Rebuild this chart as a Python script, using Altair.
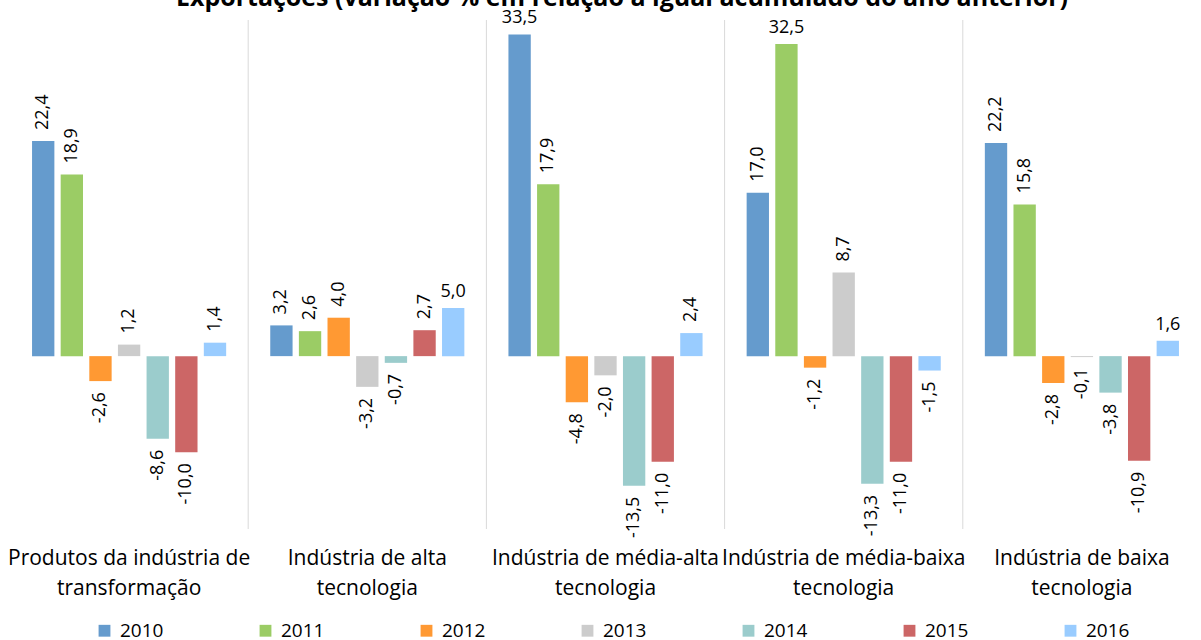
import altair as alt
import pandas as pd

title_text = "Exportações (variação % em relação a igual acumulado do ano anterior)"

categories = [
    "Produtos da indústria de\ntransformação",
    "Indústria de alta\ntecnologia",
    "Indústria de média-alta\ntecnologia",
    "Indústria de média-baixa\ntecnologia",
    "Indústria de baixa\ntecnologia",
]
years = ["2010", "2011", "2012", "2013", "2014", "2015", "2016"]

v_transformacao = [22.4, 18.9, -2.6, 1.2, -8.6, -10.0, 1.4]
v_alta = [3.2, 2.6, 4.0, -3.2, -0.7, 2.7, 5.0]
v_media_alta = [33.5, 17.9, -4.8, -2.0, -13.5, -11.0, 2.4]
v_media_baixa = [17.0, 32.5, -1.2, 8.7, -13.3, -11.0, -1.5]
v_baixa = [22.2, 15.8, -2.8, -0.1, -3.8, -10.9, 1.6]

series = [v_transformacao, v_alta, v_media_alta, v_media_baixa, v_baixa]

# labels drawn horizontally in the original (others are rotated)
horizontal_labels = [(1, "2016"), (2, "2010"), (3, "2011"), (4, "2016")]

colors = ["#659BCD", "#9BCC65", "#FF9933", "#CCCCCC", "#9BCCCC", "#CC6666", "#99CCFF"]

rows = []
for ci, (cat, vals) in enumerate(zip(categories, series)):
    for y, v in zip(years, vals):
        rows.append({
            "cat": cat,
            "year": y,
            "v": v,
            "label": f"{v:.1f}".replace(".", ","),
            "horiz": (ci, y) in horizontal_labels,
        })
df = pd.DataFrame(rows)

FONT = "Open Sans"
W, H = 1191, 509

x_enc = alt.X(
    "cat:N",
    sort=categories,
    scale=alt.Scale(paddingInner=0, paddingOuter=0),
    axis=alt.Axis(
        title=None, domain=False, ticks=False, grid=False, labelAngle=0,
        labelAlign="center", labelBaseline="top",
        labelExpr="split(datum.label, '\\n')", labelFont=FONT, labelFontSize=21,
        labelColor="#000000", labelLineHeight=30, labelPadding=18, labelLimit=300,
    ),
)
xo_enc = alt.XOffset("year:N", sort=years, scale=alt.Scale(paddingInner=0.22, paddingOuter=0.77))
y_enc = alt.Y("v:Q", scale=alt.Scale(domain=[-18, 35], nice=False, zero=True), axis=None)

base = alt.Chart(df)

bars = base.mark_bar().encode(
    x=x_enc,
    xOffset=xo_enc,
    y=y_enc,
    y2=alt.datum(0),
    color=alt.Color(
        "year:N", sort=years,
        scale=alt.Scale(domain=years, range=colors),
        legend=alt.Legend(
            title=None, orient="none", direction="horizontal", legendX=85, legendY=601,
            symbolType="square", symbolSize=140, symbolStrokeWidth=0, labelFont=FONT,
            labelFontSize=19, labelColor="#000000", labelOffset=6, columnPadding=92,
            padding=0, columns=7,
        ),
    ),
)

txt_common = dict(font=FONT, fontSize=18, color="#000000")

pos_rot = base.transform_filter("datum.v >= 0 && !datum.horiz").mark_text(
    angle=270, align="left", baseline="middle", dx=11, **txt_common
).encode(x=x_enc, xOffset=xo_enc, y=y_enc, text="label:N")

neg_rot = base.transform_filter("datum.v < 0 && !datum.horiz").mark_text(
    angle=270, align="right", baseline="middle", dx=-11, **txt_common
).encode(x=x_enc, xOffset=xo_enc, y=y_enc, text="label:N")

horiz = base.transform_filter("datum.horiz").mark_text(
    align="center", baseline="bottom", dy=-7, **txt_common
).encode(x=x_enc, xOffset=xo_enc, y=y_enc, text="label:N")

sep_df = pd.DataFrame({"cat": categories[1:]})
seps = alt.Chart(sep_df).mark_rule(color="#D9D9D9", strokeWidth=1).encode(
    x=alt.X("cat:N", sort=categories, bandPosition=0),
    y=alt.value(0),
    y2=alt.value(H),
)

title_df = pd.DataFrame({"t": [title_text]})
title = alt.Chart(title_df).mark_text(
    font=FONT, fontSize=25, fontWeight="bold", align="center", baseline="alphabetic", color="#000000"
).encode(text="t:N", x=alt.value(612), y=alt.value(-14))

chart = alt.layer(seps, bars, pos_rot, neg_rot, horiz, title).properties(
    width=W,
    height=H,
    padding={"left": 10, "top": 20, "right": 0, "bottom": 111},
    autosize=alt.AutoSizeParams(type="none"),
    background="#FFFFFF",
).configure_view(stroke=None)

chart.save("out.html", embed_options={"renderer": "svg", "actions": False})
